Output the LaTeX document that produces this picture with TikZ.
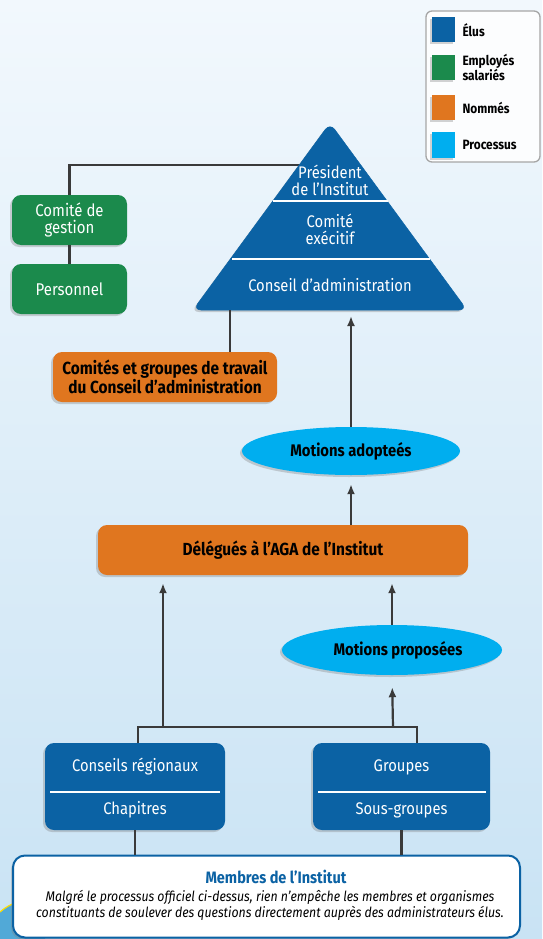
\documentclass[tikz,border=0pt]{standalone}
\usepackage{fontspec}
\setmainfont{Fira Sans}[FakeStretch=0.88]
\usetikzlibrary{shadows,arrows.meta,shapes.geometric}
\definecolor{cblue}{HTML}{0B62A4}
\definecolor{cgreen}{HTML}{1B8A4C}
\definecolor{corange}{HTML}{E0761F}
\definecolor{ccyan}{HTML}{00AEEF}
\definecolor{cline}{HTML}{3A3A3A}
\definecolor{bgtop}{HTML}{F2F8FD}
\definecolor{bgbot}{HTML}{C9E3F4}
\begin{document}
\begin{tikzpicture}[x=1pt,y=-1pt,
  shad/.style={drop shadow={opacity=0.35,shadow xshift=-2pt,shadow yshift=-2pt}},
  rbox/.style={shad,rounded corners=9pt,align=center,inner sep=2pt},
  greenbox/.style={rbox,fill=cgreen,text=white,minimum width=115pt,minimum height=50pt,font=\fontsize{17}{17}\selectfont},
  orangebox/.style={rbox,fill=corange,text=black,minimum height=50pt,font=\bfseries\fontsize{17.5}{17}\selectfont},
  procell/.style={shad,ellipse,fill=ccyan,text=black,inner sep=0pt,font=\bfseries\fontsize{16.8}{17}\selectfont},
  bluebox/.style={rbox,fill=cblue,minimum height=87pt},
  wtext/.style={text=white,font=\fontsize{16.8}{17}\selectfont,align=center},
  conn/.style={draw=cline,line width=2.2pt},
  arr/.style={conn,-{Latex[length=10pt,width=8pt]}},
  legsq/.style={shad,minimum width=23pt,minimum height=25pt,inner sep=0pt},
  legtx/.style={anchor=west,align=left,font=\bfseries\fontsize{13.5}{12}\selectfont}
]
\useasboundingbox (0,0) rectangle (542,939);
\shade[top color=bgtop,bottom color=bgbot] (0,0) rectangle (542,939);
% bottom-left decoration
\fill[cblue!55!ccyan!70] (0,939) -- (0,912) .. controls (10,903) and (25,898) .. (45,896) -- (45,939) -- cycle;
\draw[yellow!80!orange,line width=1.2pt] (0,912) .. controls (10,903) and (25,898) .. (45,896);

% legend
\node[draw=gray!70,line width=1.3pt,fill=white,fill opacity=0.85,rounded corners=6pt,minimum width=114pt,minimum height=151pt,inner sep=0pt] (leg) at (483,86.5) {};
\node[legsq,fill=cblue] (l1) at (443.5,30) {};
\node[legsq,fill=cgreen] (l2) at (443.5,67.5) {};
\node[legsq,fill=corange] (l3) at (443.5,107.5) {};
\node[legsq,fill=ccyan] (l4) at (443.5,145) {};
\node[legtx] (t1) at (459,30) {Élus};
\node[legtx] (t2) at (459,67.5) {Employés\\salariés};
\node[legtx] (t3) at (459,107.5) {Nommés};
\node[legtx] (t4) at (459,145) {Processus};

% named points on the triangle
\coordinate (apex) at (330,123);
\coordinate (bl) at (193,310);
\coordinate (br) at (467,310);
\coordinate (pres) at (330,165);
\coordinate (baseA) at (230,310);
\coordinate (baseB) at (351,310);

% green boxes
\node[greenbox] (cg) at (69.5,220) {Comité de\\gestion};
\node[greenbox] (pers) at (69.5,289) {Personnel};
\draw[conn] (cg.north) |- (pres);
\draw[conn] (cg.south) -- (pers.north);

% triangle
\filldraw[shad,fill=cblue,draw=cblue,rounded corners=8pt,line width=0.5pt] (apex) -- (br) -- (bl) -- cycle;
\draw[white,line width=2pt] (273,201) -- (388,201);
\draw[white,line width=2pt] (232,259) -- (430,259);
\node[wtext] (pr) at (330,180) {Président\\de l'Institut};
\node[wtext] (ce) at (330,229) {Comité\\exécitif};
\node[wtext] (ca) at (330,285) {Conseil d'administration};

% orange boxes
\node[orangebox,minimum width=224pt] (cgt) at (165,377) {Comités et groupes de travail\\du Conseil d'administration};
\draw[conn] (baseA) -- (baseA |- cgt.north);

\node[procell,minimum width=218pt,minimum height=48pt] (ma) at (351,451) {Motions adopteés};
\draw[arr,shorten >=6pt] (ma.north) -- (baseB);

\node[orangebox,minimum width=370pt] (del) at (283,550) {Délégués à l'AGA de l'Institut};
\draw[arr,shorten >=9pt] (del.north -| ma.south) -- (ma.south);

\node[procell,minimum width=220pt,minimum height=50pt] (mp) at (392,650) {\hspace*{12pt}Motions proposées};

% blue boxes
\node[bluebox,minimum width=180pt] (cr) at (135,786.5) {};
\node[bluebox,minimum width=177pt] (gr) at (401.5,786.5) {};
\draw[white,line width=2pt] (50,792) -- (220,792);
\draw[white,line width=2pt] (318,792) -- (486,792);
\node[wtext] (crt) at (135,767) {Conseils régionaux};
\node[wtext] (cht) at (135,810) {Chapitres};
\node[wtext] (grt) at (401.5,767) {Groupes};
\node[wtext] (sgt) at (401.5,810) {Sous-groupes};

% connectors between levels
\coordinate (hl) at (138,727);
\coordinate (hr) at (417,727);
\coordinate (ha) at (163,727);
\coordinate (hb) at (393,727);
\draw[conn] (hl |- cr.north) -- (hl) -- (hr) -- (hr |- gr.north);
\draw[arr,shorten >=8pt] (ha) -- (ha |- del.south);
\draw[arr,shorten >=12pt] (hb) -- (mp.south);
\draw[arr,shorten >=8pt] (mp.north) -- (mp.north |- del.south);

% members box
\node[shad,draw=cblue,line width=2pt,fill=white,rounded corners=12pt,minimum width=507pt,minimum height=82pt,inner sep=0pt] (mem) at (266.5,896.5) {};
\draw[conn] (cr.south) -- (cr.south |- mem.north);
\draw[conn] (gr.south) -- (gr.south |- mem.north);
\node[text=cblue,font=\bfseries\fontsize{16.5}{17}\selectfont] (memt) at (276,877) {Membres de l'Institut};
\node[font=\itshape\fontsize{14}{16}\selectfont,align=center] (memx) at (270,905) {Malgré le processus officiel ci-dessus, rien n'empêche les membres et organismes\\constituants de soulever des questions directement auprès des administrateurs élus.};
\end{tikzpicture}
\end{document}
